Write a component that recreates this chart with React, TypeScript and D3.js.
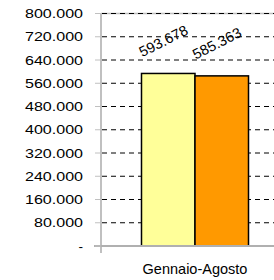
import React from "react";
import * as d3 from "d3";

// data
const categories = ["Gennaio-Agosto"];
const seriesNames = ["A", "B"];
const seriesValues = [593.678, 585.363];
const seriesColors = ["#ffff99", "#ff9900"];
const yTicks = [0, 80, 160, 240, 320, 400, 480, 560, 640, 720, 800];

const W = 274;
const H = 280;
const left = 101;
const top = 13.5;
const bottom = 246;
const right = 289;

const fmt = (v: number) => (v === 0 ? "-" : d3.format(".3f")(v));

export default function App() {
  const y = d3.scaleLinear().domain([0, 800]).range([bottom, top]);
  const x0 = d3.scaleBand().domain(categories).range([left, right]).paddingInner(0).paddingOuter(0.3785);
  const x1 = d3.scaleBand().domain(seriesNames).range([0, x0.bandwidth()]);
  const ang = (27 * Math.PI) / 180;
  const half = 45;

  return (
    <svg width={W} height={H} style={{ position: "absolute", left: 0, top: 0 }}
      fontFamily="Arial, 'Liberation Sans', sans-serif">
      <rect width={W} height={H} fill="#fff" />
      {/* plot border */}
      <line x1={left} x2={W} y1={top} y2={top} stroke="#c0c0c0" strokeWidth={1.5} />
      {/* gridlines */}
      {yTicks.filter(t => t > 0).map(t => (
        <line key={t} x1={left + 1} x2={W} y1={y(t)} y2={y(t)} stroke="#000" strokeWidth={1}
          strokeDasharray="5,4" />
      ))}
      {/* bars */}
      {categories.map(c => (
        <g key={c}>
          {seriesValues.map((v, i) => (
            <rect key={i} x={x0(c)! + x1(seriesNames[i])!} y={y(v)}
              width={x1.bandwidth()} height={bottom - y(v)}
              fill={seriesColors[i]} stroke="#000" strokeWidth={1.5} />
          ))}
          {seriesValues.map((v, i) => {
            const cx = x0(c)! + x1(seriesNames[i])! + x1.bandwidth() / 2 - 2.5;
            const cy = y(v) - 28;
            const id = `lab${i}`;
            const d = `M${cx - half * Math.cos(ang)},${cy + half * Math.sin(ang)}L${cx + half * Math.cos(ang)},${cy - half * Math.sin(ang)}`;
            return (
              <g key={id}>
                <path id={id} d={d} fill="none" stroke="none" />
                <text fontSize={14.5} fill="#000">
                  <textPath href={`#${id}`} startOffset="50%" textAnchor="middle">
                    {fmt(v)}
                  </textPath>
                </text>
              </g>
            );
          })}
        </g>
      ))}
      {/* axes */}
      <line x1={left} x2={left} y1={top} y2={bottom + 7} stroke="#c0c0c0" strokeWidth={2} />
      <line x1={left - 7} x2={W} y1={bottom} y2={bottom} stroke="#b0b0b0" strokeWidth={2} />
      {yTicks.map(t => (
        <g key={t}>
          <line x1={left - 6} x2={left} y1={y(t)} y2={y(t)} stroke="#c0c0c0" strokeWidth={1} />
          <text x={83} y={y(t)} textAnchor="end" dominantBaseline="central" fontSize={13.5}
            textLength={t === 0 ? undefined : t < 100 ? 49 : 58}
            lengthAdjust="spacingAndGlyphs" fill="#000">
            {fmt(t)}
          </text>
        </g>
      ))}
      {categories.map(c => (
        <text key={c} x={x0(c)! + x0.bandwidth() / 2} y={269} textAnchor="middle"
          dominantBaseline="central" fontSize={14.5} fill="#000">
          {c}
        </text>
      ))}
    </svg>
  );
}
